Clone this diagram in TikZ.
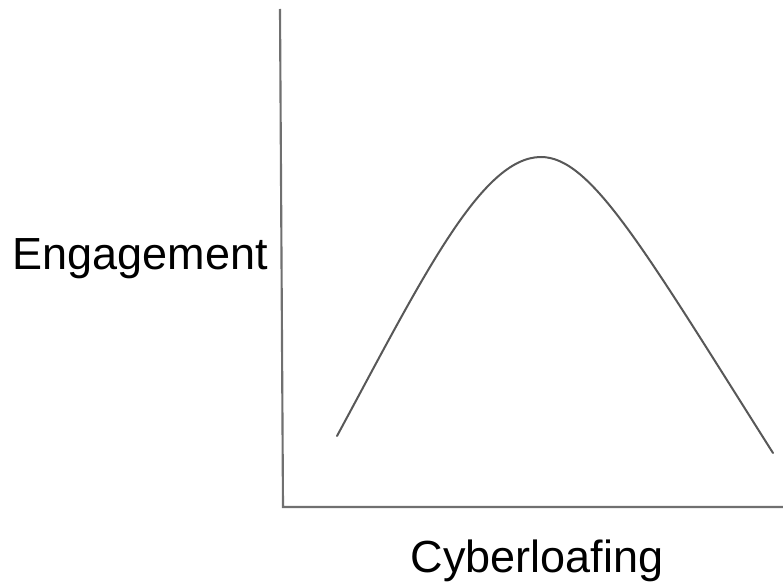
\documentclass[tikz,border=0pt]{standalone}
\usepackage{fontspec}
\setmainfont{Liberation Sans}
\definecolor{axisgray}{RGB}{112,112,112}
\definecolor{curvegray}{RGB}{88,88,88}
\begin{document}
\begin{tikzpicture}[x=0.75pt,y=-0.75pt,
  axisline/.style={draw=axisgray,line width=1.6pt},
  curveline/.style={draw=curvegray,line width=1.5pt,line cap=round,line join=round},
  axislabel/.style={font=\fontsize{33.75pt}{40pt}\selectfont,inner sep=0pt,anchor=base}]
  \useasboundingbox (0,0) rectangle (783,588);
  % axes
  \coordinate (ytop) at (280,9);
  \coordinate (origin) at (283,507);
  \coordinate (xend) at (783,507);
  \draw[axisline] (ytop) -- (origin) -- (xend);
  % inverted-U relationship
  \coordinate (cstart) at (337,436);
  \coordinate (cpeak) at (541,157);
  \coordinate (cend) at (773,453);
  \draw[curveline] (cstart)
    .. controls (422,278.75) and (481,157) .. (cpeak)
    .. controls (591,157) and (643,247.6) .. (cend);
  % labels
  \node[axislabel] (ylab) at (140,270) {Engagement};
  \node[axislabel] (xlab) at (537,572) {Cyberloafing};
\end{tikzpicture}
\end{document}
